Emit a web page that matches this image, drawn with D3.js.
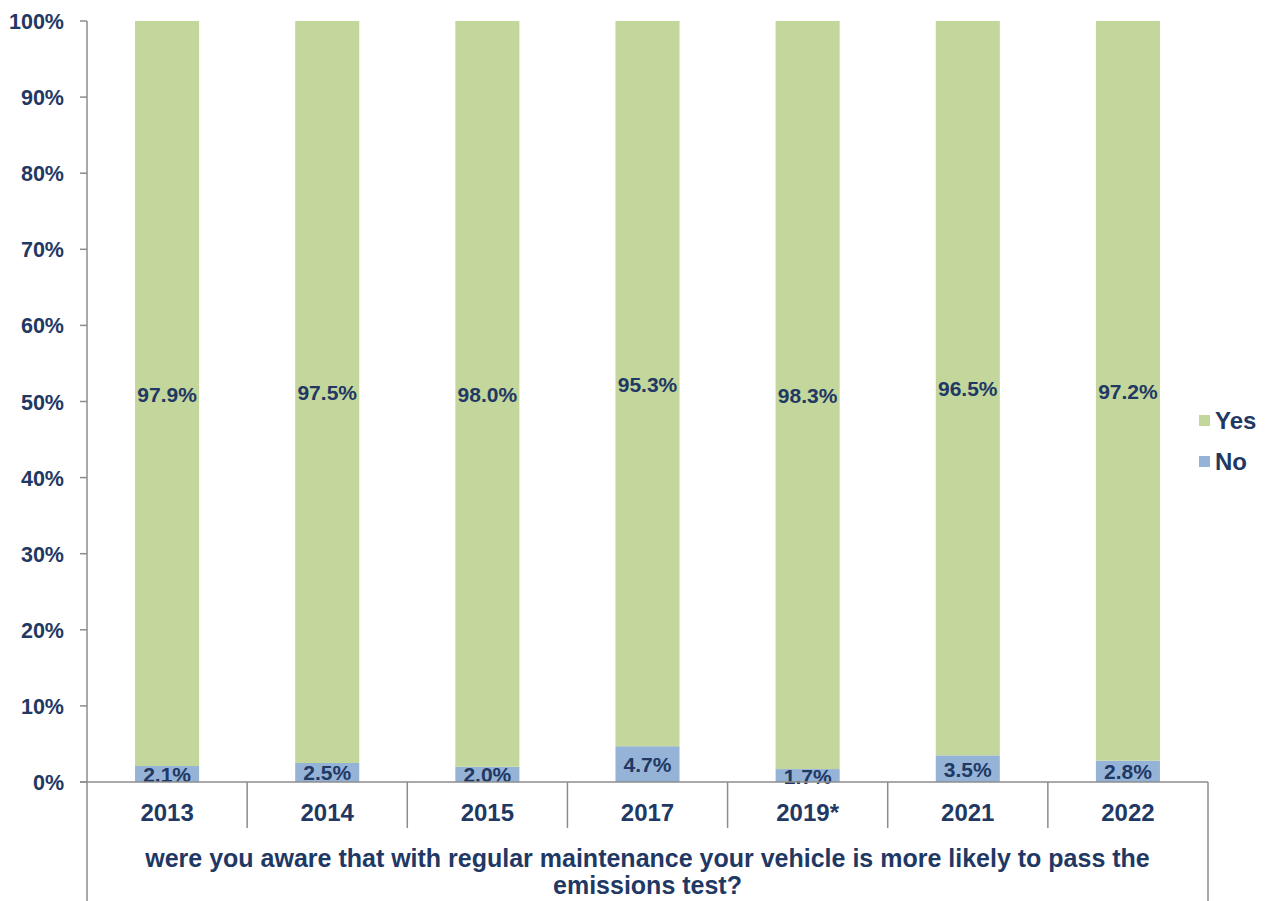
<!DOCTYPE html>
<html>
<head>
<meta charset="utf-8">
<script src="https://cdn.jsdelivr.net/npm/d3@7"></script>
<style>
  body { margin: 0; background: #fff; }
  svg text { font-family: "Liberation Sans", Arial, sans-serif; font-weight: bold; fill: #1F3864; }
</style>
</head>
<body>
<svg id="chart" width="1265" height="901"></svg>
<script>
// ---- data ----
const years = ['2013', '2014', '2015', '2017', '2019*', '2021', '2022'];
const noValues = [2.1, 2.5, 2.0, 4.7, 1.7, 3.5, 2.8];
const yesValues = [97.9, 97.5, 98.0, 95.3, 98.3, 96.5, 97.2];
const yTicks = [0, 10, 20, 30, 40, 50, 60, 70, 80, 90, 100];
const seriesNames = ['Yes', 'No'];
const questionLines = [
  'were you aware that with regular maintenance your vehicle is more likely to pass the',
  'emissions test?'
];

const colors = { Yes: '#C3D69B', No: '#95B3D7' };
const axisColor = '#8C8C8C';

const svg = d3.select('#chart');
const margin = { top: 21, left: 87, right: 57, bottom: 119 };
const width = 1265, height = 901;
const plotBottom = height - margin.bottom; // 782

const x = d3.scaleBand().domain(years).range([margin.left, width - margin.right]).paddingInner(0).paddingOuter(0);
const y = d3.scaleLinear().domain([0, 100]).range([plotBottom, margin.top]);
const barW = x.bandwidth() * 0.4;

const rows = years.map((yr, i) => ({ year: yr, No: noValues[i], Yes: yesValues[i] }));
const stacked = d3.stack().keys(['No', 'Yes'])(rows);

// bars
const g = svg.append('g');
stacked.forEach(layer => {
  g.selectAll(null)
    .data(layer)
    .enter()
    .append('rect')
    .attr('x', d => x(d.data.year) + (x.bandwidth() - barW) / 2)
    .attr('width', barW)
    .attr('y', d => y(Math.min(d[1], 100)))
    .attr('height', d => y(d[0]) - y(Math.min(d[1], 100)))
    .attr('fill', colors[layer.key]);
});

// data labels
stacked.forEach(layer => {
  g.selectAll(null)
    .data(layer)
    .enter()
    .append('text')
    .attr('x', d => x(d.data.year) + x.bandwidth() / 2)
    .attr('y', d => y((d[0] + Math.min(d[1], 100)) / 2) + 8)
    .attr('text-anchor', 'middle')
    .attr('font-size', 21)
    .text(d => d.data[layer.key].toFixed(1) + '%');
});

// y axis
const yAxis = svg.append('g');
yAxis.append('line')
  .attr('x1', margin.left).attr('x2', margin.left)
  .attr('y1', margin.top).attr('y2', height)
  .attr('stroke', axisColor).attr('stroke-width', 1.5);
yAxis.selectAll('.tick')
  .data(yTicks)
  .enter()
  .append('line')
  .attr('x1', margin.left - 7).attr('x2', margin.left)
  .attr('y1', d => y(d)).attr('y2', d => y(d))
  .attr('stroke', axisColor).attr('stroke-width', 1.5);
yAxis.selectAll('text')
  .data(yTicks)
  .enter()
  .append('text')
  .attr('x', 64)
  .attr('y', d => y(d) + 8)
  .attr('text-anchor', 'end')
  .attr('font-size', 21.5)
  .text(d => d + '%');

// x axis
const xAxis = svg.append('g');
const right = width - margin.right;
xAxis.append('line')
  .attr('x1', margin.left - 7).attr('x2', right)
  .attr('y1', plotBottom).attr('y2', plotBottom)
  .attr('stroke', axisColor).attr('stroke-width', 1.5);
xAxis.selectAll('.sep')
  .data(years.slice(1))
  .enter()
  .append('line')
  .attr('x1', d => x(d)).attr('x2', d => x(d))
  .attr('y1', plotBottom).attr('y2', 828)
  .attr('stroke', axisColor).attr('stroke-width', 1.5);
xAxis.append('line')
  .attr('x1', right).attr('x2', right)
  .attr('y1', plotBottom).attr('y2', height)
  .attr('stroke', axisColor).attr('stroke-width', 1.5);
xAxis.selectAll('text.cat')
  .data(years)
  .enter()
  .append('text')
  .attr('x', d => x(d) + x.bandwidth() / 2)
  .attr('y', 821)
  .attr('text-anchor', 'middle')
  .attr('font-size', 24)
  .text(d => d);

const qx = (margin.left + right) / 2;
xAxis.selectAll('text.q')
  .data(questionLines)
  .enter()
  .append('text')
  .attr('x', qx)
  .attr('y', (d, i) => 867 + i * 27)
  .attr('text-anchor', 'middle')
  .attr('font-size', 25)
  .text(d => d);

// legend
const legend = svg.append('g').attr('transform', 'translate(1199, 415)');
seriesNames.forEach((name, i) => {
  legend.append('rect')
    .attr('x', 0).attr('y', i * 41)
    .attr('width', 11).attr('height', 11)
    .attr('fill', colors[name]);
  legend.append('text')
    .attr('x', 16).attr('y', i * 41 + 14)
    .attr('font-size', 24)
    .text(name);
});
</script>
</body>
</html>
